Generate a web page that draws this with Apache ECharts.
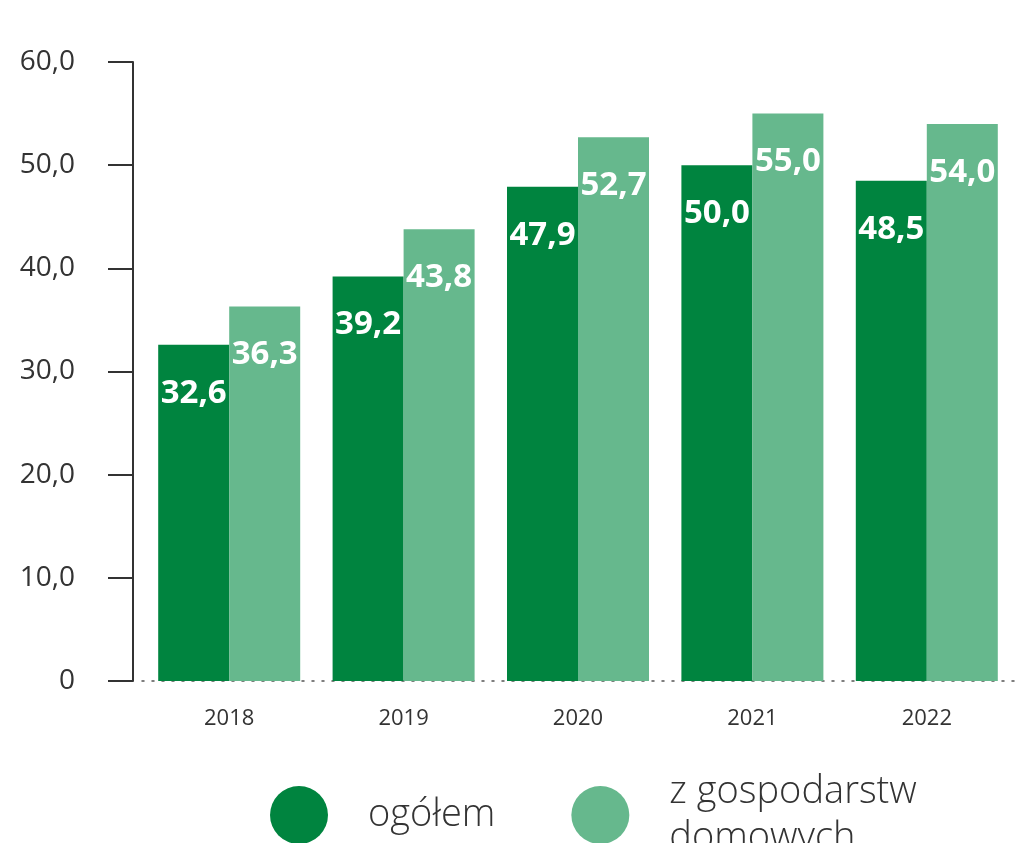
<!DOCTYPE html>
<html>
<head>
<meta charset="utf-8">
<script src="https://cdn.jsdelivr.net/npm/echarts@6/dist/echarts.min.js"></script>
<style>
  html, body { margin: 0; padding: 0; background: #fff; }
  #chart { width: 1021px; height: 843px; }
</style>
</head>
<body>
<div id="chart"></div>
<script>
var years = ['2018', '2019', '2020', '2021', '2022'];
var ogolem = [32.6, 39.2, 47.9, 50.0, 48.5];
var zGospodarstw = [36.3, 43.8, 52.7, 55.0, 54.0];
var seriesNames = ['ogółem', 'z gospodarstw\ndomowych'];

function fmt(v) {
    return v === 0 ? '0' : v.toFixed(1).replace('.', ',');
}

var chart = echarts.init(document.getElementById('chart'));

var barLabel = {
    show: true,
    position: 'insideTop',
    distance: 32,
    color: '#fff',
    fontFamily: 'Open Sans',
    fontWeight: 'bold',
    fontSize: 33,
    formatter: function (p) { return fmt(p.value); }
};

var option = {
    animation: false,
    grid: { left: 142, right: 7, top: 62, bottom: 162 },
    legend: {
        left: 265,
        top: 764,
        itemWidth: 58,
        itemHeight: 58,
        itemGap: 76,
        icon: 'circle',
        textStyle: {
            fontFamily: 'Open Sans',
            fontWeight: 300,
            fontSize: 38,
            lineHeight: 46,
            color: '#333',
            padding: [0, 0, 0, 35]
        },
        data: seriesNames
    },
    xAxis: {
        type: 'category',
        data: years,
        axisTick: { show: false },
        axisLine: { lineStyle: { color: '#555', type: [2, 8], width: 1.5 } },
        axisLabel: { color: '#333', fontFamily: 'Open Sans', fontSize: 22, margin: 27 }
    },
    yAxis: {
        type: 'value',
        min: 0,
        max: 60,
        interval: 10,
        offset: 9,
        splitLine: { show: false },
        axisLine: { show: true, lineStyle: { color: '#333', width: 2 } },
        axisTick: { show: true, length: 25, lineStyle: { color: '#333', width: 2 } },
        axisLabel: {
            color: '#333',
            fontFamily: 'Open Sans',
            fontWeight: 'normal',
            fontSize: 28,
            margin: 58,
            formatter: function (v) { return fmt(v); }
        }
    },
    series: [
        {
            name: seriesNames[0],
            type: 'bar',
            barWidth: 71,
            barGap: '0%',
            itemStyle: { color: '#00843f' },
            label: barLabel,
            data: ogolem
        },
        {
            name: seriesNames[1],
            type: 'bar',
            barWidth: 71,
            barGap: '0%',
            itemStyle: { color: '#66b88d' },
            label: barLabel,
            data: zGospodarstw
        }
    ]
};
chart.setOption(option);
</script>
</body>
</html>
